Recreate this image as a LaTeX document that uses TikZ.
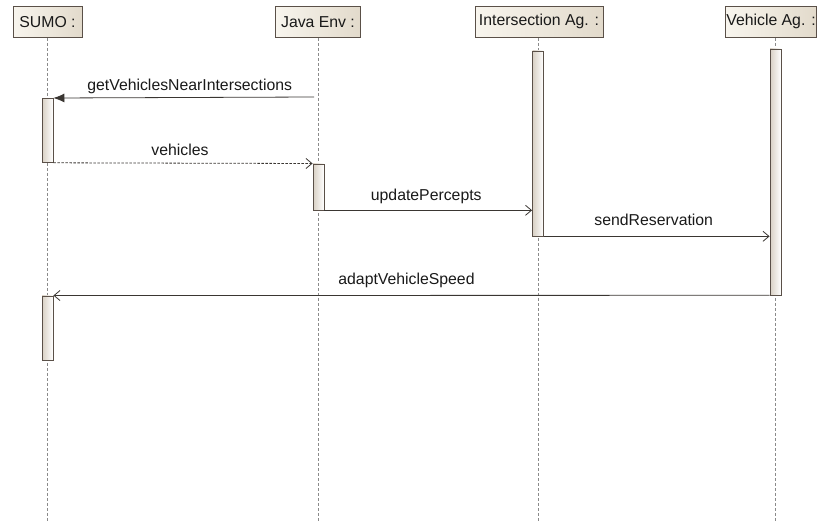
\documentclass[tikz,border=0pt]{standalone}
\usepackage{fontspec}
\setmainfont{Liberation Sans}
\usetikzlibrary{arrows.meta,positioning}
\definecolor{edge}{HTML}{5A5048}
\definecolor{msgline}{HTML}{3A3632}
\definecolor{lifel}{HTML}{8A8A8A}
\definecolor{boxlight}{HTML}{F8F5EE}
\definecolor{boxdark}{HTML}{E2DACB}
\definecolor{actdark}{HTML}{D8D0C4}
\tikzset{
  x=1pt, y=-1pt,
  every node/.style={font=\fontsize{15.8}{18}\selectfont, text=black!90},
  header/.style={draw=edge, line width=0.8pt, left color=boxlight, right color=boxdark,
    minimum height=31pt, inner xsep=1pt, anchor=north},
  lifeline/.style={draw=lifel, dashed, dash pattern=on 3pt off 2pt, line width=0.7pt},
  act/.style={draw=edge, line width=0.8pt, left color=actdark, right color=white,
    minimum width=11pt, inner sep=0pt, anchor=north},
  call/.style={draw=msgline, line width=0.8pt, -{Latex[length=11pt,width=9pt]}},
  msg/.style={draw=msgline, line width=0.8pt, -{Straight Barb[length=6pt,width=10pt]}},
  reply/.style={msg, dashed, dash pattern=on 2.5pt off 1.5pt},
  lbl/.style={anchor=south, inner sep=0pt, yshift=5pt}
}
\begin{document}
\begin{tikzpicture}
\useasboundingbox (0,0) rectangle (818,522);

% participants
\node[header, minimum width=69pt]  (s) at (47.5,6) {SUMO :};
\node[header, minimum width=85pt]  (j) at (318,6) {Java Env :};
\node[header, minimum width=128pt] (i) at (539,6) {Intersection Ag. :};
\node[header, minimum width=88pt]  (v) at (771,6) {Vehicle Ag. :};

% lifelines
\coordinate (sE) at (47.5,522);
\coordinate (jE) at (318,522);
\coordinate (iE) at (538,522);
\coordinate (vE) at (775.5,522);
\draw[lifeline] (s.south -| sE) -- (sE);
\draw[lifeline] (j.south -| jE) -- (jE);
\draw[lifeline] (i.south -| iE) -- (iE);
\draw[lifeline] (v.south -| vE) -- (vE);

% activation bars
\node[act, minimum height=64pt]  (s1) at (47.5,98) {};
\node[act, minimum height=64pt]  (s2) at (47.5,295.5) {};
\node[act, minimum height=46pt]  (j1) at (318.5,163.5) {};
\node[act, minimum height=185pt] (i1) at (538,50.5) {};
\node[act, minimum height=246pt] (v1) at (775.5,48.5) {};

% messages
\coordinate (jq) at (314,97);
\draw[call] (jq) -- (s1.north east) node[lbl, midway, xshift=6pt, yshift=-2pt] {getVehiclesNearIntersections};
\draw[reply] (s1.south east) -- (j1.north west) node[lbl, midway, xshift=-3pt, yshift=2pt] {vehicles};
\draw[msg] (j1.south east) -- (j1.south east -| i1.west) node[lbl, midway, xshift=-2pt, yshift=1pt] {updatePercepts};
\draw[msg] (i1.south east) -- (i1.south east -| v1.west) node[lbl, midway, xshift=-3pt, yshift=5pt] {sendReservation};
\draw[msg] (v1.south west) -- (s2.north east) node[lbl, midway, xshift=-5pt, yshift=2pt] {adaptVehicleSpeed};
\end{tikzpicture}
\end{document}
